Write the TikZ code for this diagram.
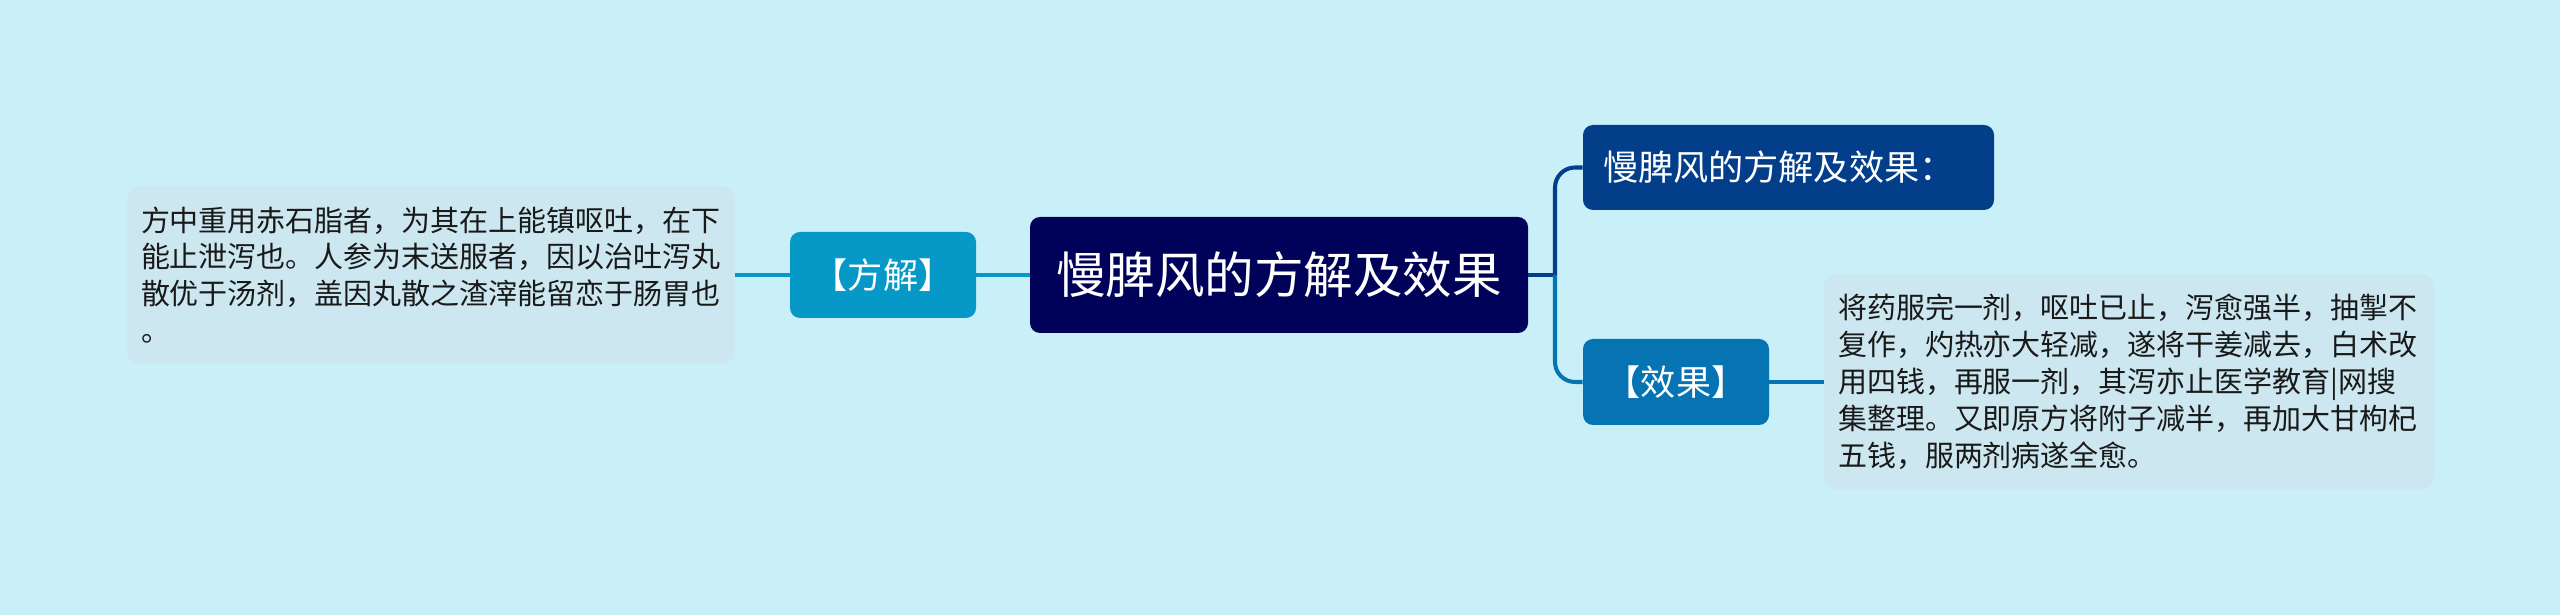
\documentclass[tikz,border=0pt]{standalone}
\usepackage{fontspec}
\setmainfont{Noto Sans CJK SC}
\definecolor{bgcyan}{RGB}{201,240,248}
\definecolor{notefill}{RGB}{204,231,240}
\definecolor{rootnavy}{RGB}{0,2,89}
\definecolor{deepblue}{RGB}{2,62,138}
\definecolor{midblue}{RGB}{6,115,179}
\definecolor{lightblue}{RGB}{6,153,200}

\begin{document}
\begin{tikzpicture}[
  box/.style={rounded corners=0.2cm,text=white,inner sep=0pt},
  note/.style={rounded corners=0.24cm,fill=notefill,text=black!90,
    inner xsep=0.28cm,inner ysep=0pt,align=left,
    font=\fontsize{16.5}{21}\selectfont},
  link/.style={line width=2.3pt},
]
\useasboundingbox[fill=bgcyan] (0,0) rectangle (51.2,12.3);

\node (root) at (25.58,6.80) [box,fill=rootnavy,minimum width=9.96cm,
  minimum height=2.32cm,font=\fontsize{28.2}{34}\selectfont] {慢脾风的方解及效果};

\node (fangjie) at (17.66,6.80) [box,fill=lightblue,minimum width=3.72cm,
  minimum height=1.72cm,font=\fontsize{20}{24}\selectfont] {【方解】};
\node (leftnote) at (8.62,6.80) [note,text width=11.6cm,minimum height=3.54cm]
  {方中重用赤石脂者，为其在上能镇呕吐，在下\\
   能止泄泻也。人参为末送服者，因以治吐泻丸\\
   散优于汤剂，盖因丸散之渣滓能留恋于肠胃也\\
   。};

\node (summary) at (35.77,8.95) [box,fill=deepblue,inner xsep=0.4cm,
  text width=7.42cm,align=left,minimum height=1.70cm,
  font=\fontsize{20}{24}\selectfont] {慢脾风的方解及效果：};
\node (xiaoguo) at (33.52,4.66) [box,fill=midblue,minimum width=3.72cm,
  minimum height=1.72cm,font=\fontsize{20}{24}\selectfont] {【效果】};
\node (rightnote) at (42.58,4.66) [note,text width=11.64cm,minimum height=4.30cm]
  {将药服完一剂，呕吐已止，泻愈强半，抽掣不\\
   复作，灼热亦大轻减，遂将干姜减去，白术改\\
   用四钱，再服一剂，其泻亦止医学教育|网搜\\
   集整理。又即原方将附子减半，再加大甘枸杞\\
   五钱，服两剂病遂全愈。};

% left side
\draw[link,lightblue] (leftnote.east) -- (fangjie.west);
\draw[link,lightblue] (fangjie.east) -- (root.west);

% right side
\coordinate (fork) at (31.10,6.80);
\draw[link,deepblue] (root.east) -- (fork);
\draw[link,deepblue,rounded corners=0.4cm] (fork) |- (summary.west);
\draw[link,midblue,rounded corners=0.4cm] (fork) |- (xiaoguo.west);
\draw[link,midblue] (xiaoguo.east) -- (rightnote.west);

\end{tikzpicture}
\end{document}
